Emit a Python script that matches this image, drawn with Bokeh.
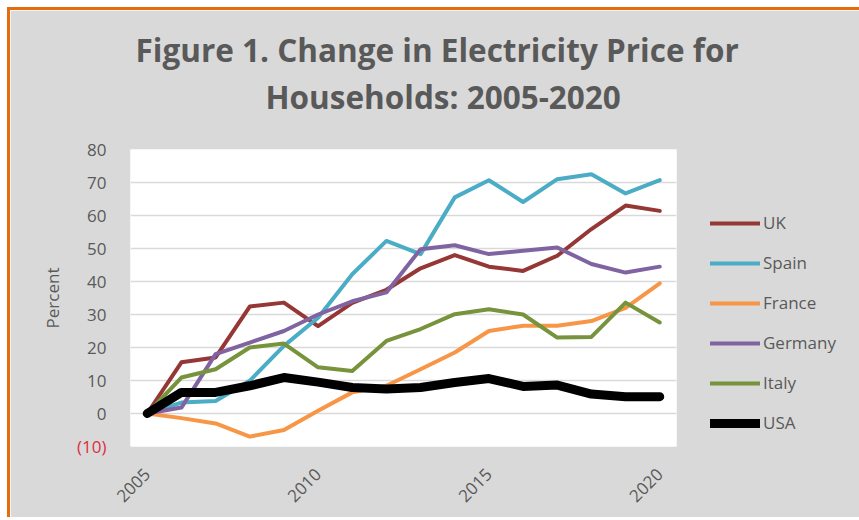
from bokeh.plotting import figure
from bokeh.models import Legend, LegendItem, FixedTicker, ColumnDataSource, Title, LinearAxis
from bokeh.embed import file_html
from bokeh.resources import INLINE
import math

years = list(range(2005, 2021))
uk      = [0, 15.5, 17, 32.4, 33.6, 26.5, 33.5, 37.5, 44.0, 48.0, 44.5, 43.2, 47.8, 55.9, 63.0, 61.4]
spain   = [0, 3.3, 3.8, 9.9, 20.5, 29.0, 42.2, 52.3, 48.3, 65.5, 70.7, 64.1, 71.0, 72.5, 66.7, 70.7]
france  = [0, -1.4, -3.0, -7.0, -5.0, 0.8, 6.4, 8.4, 13.4, 18.5, 25.0, 26.6, 26.6, 28.0, 32.0, 39.4]
germany = [0, 1.8, 18.0, 21.5, 25.0, 30.0, 34.0, 36.7, 49.8, 51.0, 48.3, 49.3, 50.3, 45.3, 42.7, 44.5]
italy   = [0, 10.9, 13.4, 20.0, 21.2, 14.0, 12.9, 22.0, 25.6, 30.1, 31.6, 30.0, 23.0, 23.2, 33.6, 27.6]
usa     = [0, 6.4, 6.4, 8.4, 10.9, 9.5, 7.9, 7.4, 7.9, 9.4, 10.6, 8.2, 8.6, 5.9, 5.1, 5.1]

series_names = ["UK", "Spain", "France", "Germany", "Italy", "USA"]
series_values = [uk, spain, france, germany, italy, usa]
series_colors = ["#953735", "#4bacc6", "#f79646", "#8064a2", "#77933c", "#000000"]
series_widths = [4, 4, 4, 4, 4, 9]

pos_ticks = [0, 10, 20, 30, 40, 50, 60, 70, 80]
neg_ticks = [-10]
neg_labels = {-10: "(10)"}
x_ticks = [2005, 2010, 2015, 2020]

title_line1 = "Figure 1. Change in Electricity Price for"
title_line2 = "Households: 2005-2020"

GRAY_BG = "#d9d9d9"
TEXT = "#595959"
FONT = "Open Sans"

p = figure(frame_width=546, frame_height=297,
           min_border_left=120, min_border_right=177, min_border_top=139, min_border_bottom=71,
           x_range=(2004.51, 2020.49), y_range=(-10, 80),
           output_backend="svg", toolbar_location=None, title_location=None,
           background_fill_color="white", border_fill_color=GRAY_BG,
           styles={"margin-top": "7px", "margin-left": "7px",
                   "border-top": "3px solid #e46c0a", "border-left": "3px solid #e46c0a"})
p.outline_line_color = None

p.xgrid.grid_line_color = None
p.ygrid.grid_line_color = "#d9d9d9"
p.ygrid.grid_line_width = 1.5
p.ygrid.ticker = FixedTicker(ticks=neg_ticks + pos_ticks)

p.yaxis.ticker = FixedTicker(ticks=pos_ticks)
p.yaxis.axis_line_color = None
p.yaxis.major_tick_line_color = None
p.yaxis.minor_tick_line_color = None
p.yaxis.major_label_standoff = 18
p.yaxis.major_label_text_font = FONT
p.yaxis.major_label_text_font_size = "17px"
p.yaxis.major_label_text_color = TEXT

# second left axis carries the red negative label and the axis title
neg_axis = LinearAxis(ticker=FixedTicker(ticks=neg_ticks), major_label_overrides=neg_labels,
                      axis_line_color=None, major_tick_line_color=None, minor_tick_line_color=None,
                      major_label_standoff=-28, major_label_text_font=FONT,
                      major_label_text_font_size="17px", major_label_text_color="#d9303e",
                      axis_label="Percent", axis_label_text_font=FONT,
                      axis_label_text_font_style="normal", axis_label_text_font_size="17px",
                      axis_label_text_color=TEXT, axis_label_standoff=10)
p.add_layout(neg_axis, "left")

p.xaxis.ticker = FixedTicker(ticks=x_ticks)
p.xaxis.axis_line_color = None
p.xaxis.major_tick_line_color = None
p.xaxis.minor_tick_line_color = None
p.xaxis.major_label_orientation = math.pi / 4
p.xaxis.major_label_standoff = 19
p.xaxis.major_label_text_font = FONT
p.xaxis.major_label_text_font_size = "17px"
p.xaxis.major_label_text_color = TEXT

items = []
for name, vals, col, w in zip(series_names, series_values, series_colors, series_widths):
    src = ColumnDataSource(dict(x=years, y=vals))
    r = p.line("x", "y", source=src, line_color=col, line_width=w,
               line_join="round", line_cap="round")
    items.append(LegendItem(label=name, renderers=[r]))

legend = Legend(items=items, location=(34, 12), orientation="vertical",
                glyph_width=50, glyph_height=20, label_height=20, label_standoff=3,
                spacing=17, padding=0, margin=0,
                background_fill_alpha=0, border_line_color=None,
                label_text_font=FONT, label_text_font_size="17px", label_text_color=TEXT)
p.add_layout(legend, "right")

# two-line title (nearest line added first)
p.add_layout(Title(text=title_line2, align="left", offset=135, standoff=64,
                   text_font=FONT, text_font_style="bold", text_font_size="31.5px",
                   text_color=TEXT), "above")
p.add_layout(Title(text=title_line1, align="left", offset=5, standoff=-60,
                   text_font=FONT, text_font_style="bold", text_font_size="31.5px",
                   text_color=TEXT), "above")

open("out.html", "w").write(file_html(p, INLINE))
